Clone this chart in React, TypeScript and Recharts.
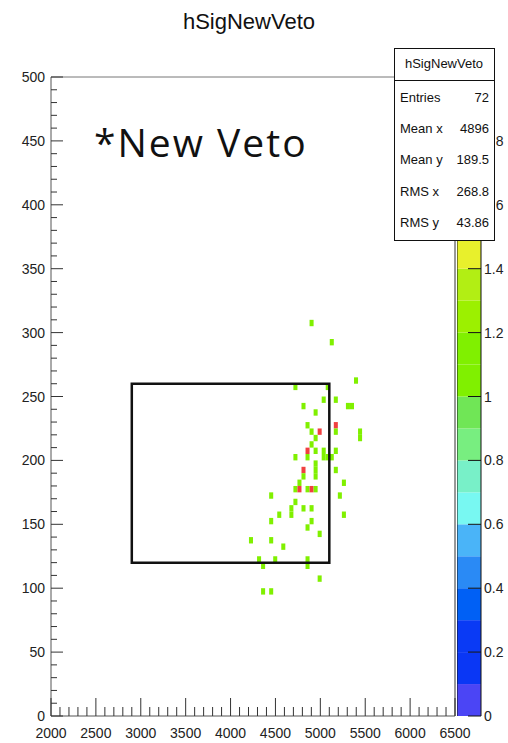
import {
  ComposedChart,
  XAxis,
  YAxis,
  ReferenceArea,
  ReferenceLine,
} from "recharts";

const FONT = '"Liberation Sans", Arial, sans-serif';

// 2D histogram bins (bin centres, content)
const binX = [
  4722.5, 5082.5, 5037.5, 5172.5, 4812.5, 4947.5, 4857.5, 5172.5, 5172.5, 4902.5,
  4992.5, 4947.5, 4902.5, 4857.5, 4947.5, 5037.5, 5172.5, 4722.5, 4857.5, 5037.5,
  5082.5, 5127.5, 4947.5, 4812.5, 5172.5, 4947.5, 4947.5, 4812.5, 4767.5, 4722.5,
  4767.5, 4857.5, 4902.5, 4947.5, 4452.5, 5217.5, 4722.5, 4677.5, 4677.5, 4812.5,
  4902.5, 4542.5, 4452.5, 4902.5, 4857.5, 4992.5, 4227.5, 4452.5, 4587.5, 4317.5,
  4497.5, 4857.5, 4362.5, 4857.5, 4902.5, 5127.5, 5397.5, 5307.5, 5352.5, 5442.5,
  5442.5, 5262.5, 5262.5, 4992.5, 4362.5, 4452.5,
];
const binY = [
  257.5, 257.5, 247.5, 247.5, 242.5, 237.5, 227.5, 227.5, 222.5, 222.5,
  222.5, 217.5, 212.5, 207.5, 207.5, 207.5, 207.5, 202.5, 202.5, 202.5,
  202.5, 202.5, 197.5, 192.5, 192.5, 192.5, 187.5, 187.5, 182.5, 177.5,
  177.5, 177.5, 177.5, 177.5, 172.5, 172.5, 167.5, 162.5, 157.5, 162.5,
  162.5, 157.5, 152.5, 152.5, 147.5, 142.5, 137.5, 137.5, 132.5, 122.5,
  122.5, 122.5, 117.5, 117.5, 307.5, 292.5, 262.5, 242.5, 242.5, 222.5,
  217.5, 182.5, 157.5, 107.5, 97.5, 97.5,
];
const binN = [
  1, 1, 1, 1, 1, 1, 1, 2, 1, 1,
  2, 1, 1, 2, 1, 1, 1, 1, 1, 1,
  1, 1, 1, 2, 1, 1, 1, 1, 1, 1,
  2, 1, 2, 1, 1, 1, 1, 1, 1, 1,
  1, 1, 1, 1, 1, 1, 1, 1, 1, 1,
  1, 1, 1, 1, 1, 1, 1, 1, 1, 1,
  1, 1, 1, 1, 1, 1,
];
const BIN_W = 45;
const BIN_H = 5;

// veto box
const boxX = [2900, 5100];
const boxY = [120, 260];

const xMajor = [2000, 2500, 3000, 3500, 4000, 4500, 5000, 5500, 6000, 6500];
const yMajor = [0, 50, 100, 150, 200, 250, 300, 350, 400, 450, 500];
const zTicks = [0, 0.2, 0.4, 0.6, 0.8, 1, 1.2, 1.4, 1.6, 1.8];

// palette levels (z) and colours
const zLevels = [0, 0.1, 0.2, 0.3, 0.4, 0.5, 0.6, 0.7, 0.8, 0.9, 1.0, 1.1, 1.2, 1.3, 1.4, 1.5, 1.6, 1.7, 1.8, 1.9, 2.0];
const zColors = [
  "#4b45f5", "#0a37f5", "#0a3af5", "#0060f5", "#2a8af5",
  "#4ab4f8", "#78f8f2", "#78f0c8", "#78ee80", "#70e656",
  "#80f000", "#80f000", "#9cf000", "#b2ee14", "#e8f02c",
  "#f0d020", "#f0a820", "#f08020", "#f05a30", "#f04040",
];

const stats = [
  ["Entries", "72"],
  ["Mean x", "4896"],
  ["Mean y", "189.5"],
  ["RMS x", "268.8"],
  ["RMS y", "43.86"],
];

const colorFor = (n: number) => {
  for (let i = zColors.length - 1; i >= 0; i--) {
    if (n >= zLevels[i]) return zColors[i];
  }
  return zColors[0];
};

// minor ticks between the majors
const withMinors = (major: number[], n: number) => {
  const out: number[] = [];
  for (let i = 0; i < major.length - 1; i++) {
    const step = (major[i + 1] - major[i]) / n;
    for (let k = 0; k < n; k++) out.push(major[i] + k * step);
  }
  out.push(major[major.length - 1]);
  return out;
};

const xTicks = withMinors(xMajor, 5);
const yTicks = withMinors(yMajor, 5);

const XTick = ({ x, y, payload }: any) => {
  const major = xMajor.includes(payload.value);
  return (
    <g>
      <line x1={x} y1={y} x2={x} y2={y - (major ? 18 : 9)} stroke="#333" strokeWidth={1} />
      {major && (
        <text x={x} y={y + 22} textAnchor="middle" fontSize={14} fill="#222" fontFamily={FONT}>
          {payload.value}
        </text>
      )}
    </g>
  );
};

const YTick = ({ x, y, payload }: any) => {
  const major = yMajor.includes(payload.value);
  return (
    <g>
      <line x1={x} y1={y} x2={x + (major ? 12 : 6)} y2={y} stroke="#333" strokeWidth={1} />
      {major && (
        <text x={x - 6} y={y + 5} textAnchor="end" fontSize={14} fill="#222" fontFamily={FONT}>
          {payload.value}
        </text>
      )}
    </g>
  );
};

const ZTick = ({ x, y, payload }: any) => (
  <g>
    <line x1={x - 13} y1={y} x2={x} y2={y} stroke="#111" strokeWidth={1} />
    <text x={x + 3} y={y + 5} textAnchor="start" fontSize={14} fill="#222" fontFamily={FONT}>
      {payload.value}
    </text>
  </g>
);

export default function App() {
  return (
    <div style={{ position: "absolute", left: 0, top: 0, width: 508, height: 743, background: "#fff", fontFamily: FONT }}>
      <div style={{ position: "absolute", left: 0, top: 0 }}>
        <ComposedChart width={508} height={743} margin={{ top: 77, right: 53, bottom: 0, left: 0 }}>
          <XAxis
            type="number"
            dataKey="x"
            domain={[2000, 6500]}
            allowDataOverflow
            ticks={xTicks}
            interval={0}
            tickSize={0}
            tickMargin={0}
            height={27}
            stroke="#555"
            tick={<XTick />}
          />
          <YAxis
            type="number"
            dataKey="y"
            domain={[0, 500]}
            allowDataOverflow
            ticks={yTicks}
            interval={0}
            tickSize={0}
            tickMargin={0}
            width={51}
            stroke="#555"
            tick={<YTick />}
          />
          <ReferenceLine y={500} stroke="#777" strokeWidth={1} ifOverflow="extendDomain" />
          <ReferenceLine x={6500} stroke="#333" strokeWidth={1} ifOverflow="extendDomain" />
          {binX.map((bx, i) => (
            <ReferenceArea
              key={i}
              x1={bx - BIN_W / 2}
              x2={bx + BIN_W / 2}
              y1={binY[i] - BIN_H / 2}
              y2={binY[i] + BIN_H / 2}
              fill={colorFor(binN[i])}
              fillOpacity={1}
              stroke="none"
            />
          ))}
          <ReferenceArea
            x1={boxX[0]}
            x2={boxX[1]}
            y1={boxY[0]}
            y2={boxY[1]}
            fill="none"
            fillOpacity={0}
            stroke="#111"
            strokeWidth={2.5}
          />
        </ComposedChart>
      </div>

      {/* colour palette */}
      <div style={{ position: "absolute", left: 457, top: 0 }}>
        <ComposedChart width={51} height={743} margin={{ top: 77, right: 0, bottom: 27, left: 0 }}>
          <XAxis type="number" dataKey="x" domain={[0, 1]} allowDataOverflow hide />
          <YAxis
            orientation="right"
            type="number"
            dataKey="z"
            domain={[0, 2]}
            allowDataOverflow
            ticks={zTicks}
            interval={0}
            tickSize={0}
            tickMargin={0}
            width={27}
            stroke="#111"
            tick={<ZTick />}
          />
          {zColors.map((c, i) => (
            <ReferenceArea
              key={i}
              x1={0}
              x2={1}
              y1={zLevels[i]}
              y2={zLevels[i + 1]}
              fill={c}
              fillOpacity={1}
              stroke="none"
            />
          ))}
          <ReferenceLine x={0} stroke="#111" strokeWidth={1} />
        </ComposedChart>
      </div>

      <svg width={508} height={743} style={{ position: "absolute", left: 0, top: 0 }}>
        <text x={249} y={29} textAnchor="middle" fontSize={22} fill="#111" fontFamily={FONT}>
          hSigNewVeto
        </text>
        <text x={94} y={157} fontSize={39} letterSpacing={2} fill="#111" fontFamily='"Open Sans", Lato, sans-serif'>
          *New Veto
        </text>
        <rect x={394.5} y={48.5} width={100} height={192} fill="#fff" stroke="#111" strokeWidth={1} />
        <line x1={394.5} y1={80.5} x2={494.5} y2={80.5} stroke="#111" strokeWidth={1} />
        <text x={444} y={68} textAnchor="middle" fontSize={13} fill="#111" fontFamily={FONT}>
          hSigNewVeto
        </text>
        {stats.map(([k, v], i) => (
          <g key={k}>
            <text x={400} y={102 + i * 31.2} fontSize={13} fill="#111" fontFamily={FONT}>
              {k}
            </text>
            <text x={489} y={102 + i * 31.2} textAnchor="end" fontSize={13} fill="#111" fontFamily={FONT}>
              {v}
            </text>
          </g>
        ))}
      </svg>
    </div>
  );
}
